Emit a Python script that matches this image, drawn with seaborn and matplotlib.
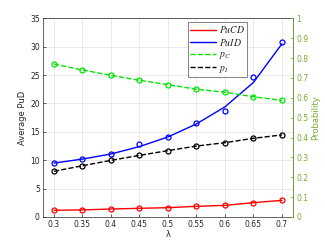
import matplotlib
matplotlib.use("Agg")
import matplotlib.pyplot as plt
from matplotlib.lines import Line2D
import seaborn as sns
import pandas as pd

lam = [0.3, 0.35, 0.4, 0.45, 0.5, 0.55, 0.6, 0.65, 0.7]
pucd = [1.18, 1.25, 1.4, 1.53, 1.64, 1.88, 2.05, 2.52, 2.93]
puid_pts = [9.56, 10.2, 11.15, 12.9, 14.14, 16.6, 18.6, 24.6, 30.75]
puid_fit = [9.5, 10.2, 11.1, 12.4, 14.1, 16.4, 19.4, 23.7, 30.5]
p_c = [0.770, 0.740, 0.713, 0.688, 0.666, 0.643, 0.628, 0.605, 0.587]
p_i = [0.230, 0.258, 0.285, 0.310, 0.334, 0.357, 0.374, 0.396, 0.413]

df = pd.DataFrame({"lam": lam, "pucd": pucd, "puid_pts": puid_pts,
                   "puid_fit": puid_fit, "p_c": p_c, "p_i": p_i})

sns.set_style("white")
plt.rcParams["font.family"] = ["DejaVu Sans"]
plt.rcParams["mathtext.fontset"] = "stix"
olive = (0.466, 0.674, 0.188)
green = (0.0, 0.9, 0.0)

fig = plt.figure(figsize=(3.25, 2.44), dpi=100)
ax = fig.add_axes([0.131, 0.1107, 0.7715, 0.8143])
ax2 = ax.twinx()

mk = dict(marker="o", markersize=3.6, markerfacecolor="none", markeredgewidth=0.9)

sns.lineplot(data=df, x="lam", y="pucd", ax=ax, color="red", lw=1.0)
sns.lineplot(data=df, x="lam", y="pucd", ax=ax, color="red", lw=0, markeredgecolor="red", **mk)
sns.lineplot(data=df, x="lam", y="puid_fit", ax=ax, color="blue", lw=1.0)
sns.lineplot(data=df, x="lam", y="puid_pts", ax=ax, color="blue", lw=0, markeredgecolor="blue", **mk)

sns.lineplot(data=df, x="lam", y="p_c", ax=ax2, color=green, lw=1.0, ls="--",
             markeredgecolor=green, **mk)
sns.lineplot(data=df, x="lam", y="p_i", ax=ax2, color="black", lw=1.0, ls="--",
             markeredgecolor="black", **mk)

ax.set_xlim(0.28, 0.72)
ax.set_ylim(0, 35)
ax2.set_ylim(0, 1)
ax.set_xticks(lam)
ax.set_xticklabels([f"{v:g}" for v in lam])
ax.set_yticks(range(0, 36, 5))
ax2.set_yticks([i / 10 for i in range(11)])
ax2.set_yticklabels([f"{i/10:g}" for i in range(11)])

ax.grid(True, color="#e6e6e6", lw=0.6)
ax.set_xlabel("λ", fontsize=6, color="#262626", labelpad=1)
ax.set_ylabel("Average PuD", fontsize=6, color="#262626", labelpad=2)
ax2.set_ylabel("Probability", fontsize=6, color=olive, labelpad=2)
ax.tick_params(labelsize=5.5, colors="#262626", length=2, width=0.5, pad=2, direction="in")
ax2.tick_params(labelsize=5.5, colors=olive, length=2, width=0.5, pad=2, direction="in")
ax.tick_params(axis="y", left=True)
ax.tick_params(axis="x", bottom=True)
ax2.tick_params(axis="y", right=True)

for s in ["top", "bottom", "left"]:
    ax2.spines[s].set_visible(False)
ax2.spines["right"].set_color(olive)
for s in ["top", "bottom", "left", "right"]:
    ax.spines[s].set_color("#262626")
    ax.spines[s].set_linewidth(0.5)
ax2.spines["right"].set_linewidth(0.5)

handles = [Line2D([], [], color="red", lw=1.0),
           Line2D([], [], color="blue", lw=1.0),
           Line2D([], [], color=green, lw=1.0, ls="--"),
           Line2D([], [], color="black", lw=1.0, ls="--")]
labels = ["$PuCD$", "$PuID$", "$p_C$", "$p_I$"]
leg = ax2.legend(handles, labels, loc="upper left",
                 fontsize=7, frameon=True, fancybox=False, edgecolor="#262626",
                 borderpad=0.25, labelspacing=0.15, handlelength=2.6, handletextpad=0.3,
                 borderaxespad=0)
leg.set_bbox_to_anchor((188 / 325, 222 / 244), transform=fig.transFigure)
leg.get_frame().set_linewidth(0.5)

fig.savefig("out.png", dpi=100)
